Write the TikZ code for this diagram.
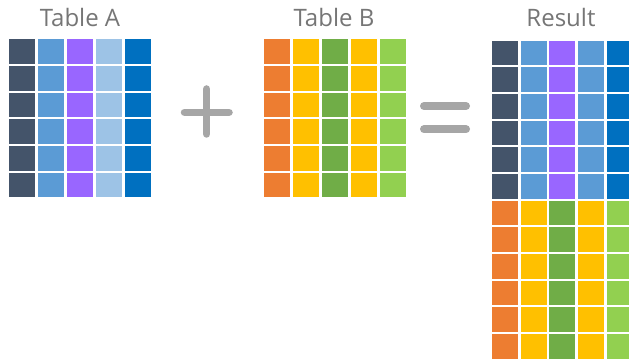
\documentclass[tikz,border=0pt]{standalone}
\usepackage{fontspec}
\setmainfont{Open Sans}
\definecolor{cslate}{HTML}{44546A}
\definecolor{cmblue}{HTML}{5B9BD5}
\definecolor{cpurple}{HTML}{9966FF}
\definecolor{clblue}{HTML}{9DC3E6}
\definecolor{cdblue}{HTML}{0070C0}
\definecolor{corange}{HTML}{ED7D31}
\definecolor{cgold}{HTML}{FFC000}
\definecolor{cgreen}{HTML}{70AD47}
\definecolor{clgreen}{HTML}{92D050}
\definecolor{csign}{HTML}{A6A6A6}
\definecolor{ctitle}{HTML}{767676}
\tikzset{
  title/.style={text=ctitle, font=\fontsize{24}{28}\selectfont, inner sep=0pt, anchor=base},
  signbar/.style={draw=csign, line width=7.5pt, line cap=round},
}
\newcommand{\drawcolumns}[4]{%
  \foreach \c [count=\i from 0] in {#4} {
    \foreach \r in {1,...,#3} {
      \fill[\c] ({#1+\i*28.8},{#2+(\r-1)*26.66}) rectangle ++(26,24.6);
    }
  }%
}
\begin{document}
\begin{tikzpicture}[x=1pt,y=-1pt]
\useasboundingbox[fill=white] (0,0) rectangle (629,363);
% Table A
\drawcolumns{9.3}{39.3}{6}{cslate,cmblue,cpurple,clblue,cdblue}
% Table B
\drawcolumns{264.3}{39.3}{6}{corange,cgold,cgreen,cgold,clgreen}
% Result
\drawcolumns{491.7}{40.7}{6}{cslate,cmblue,cpurple,cmblue,cdblue}
\drawcolumns{491.7}{200.7}{6}{corange,cgold,cgreen,cgold,clgreen}
% titles
\node[title] (ta) at (80,27) {Table A};
\node[title] (tb) at (334,27) {Table B};
\node[title] (tr) at (561,27) {Result};
% plus
\draw[signbar] (206.7,89) -- (206.7,134);
\draw[signbar] (184.5,112.3) -- (229,112.3);
% equals
\draw[signbar, line width=8pt] (424,106) -- (466,106);
\draw[signbar, line width=8pt] (424,129.3) -- (466,129.3);
\end{tikzpicture}
\end{document}
